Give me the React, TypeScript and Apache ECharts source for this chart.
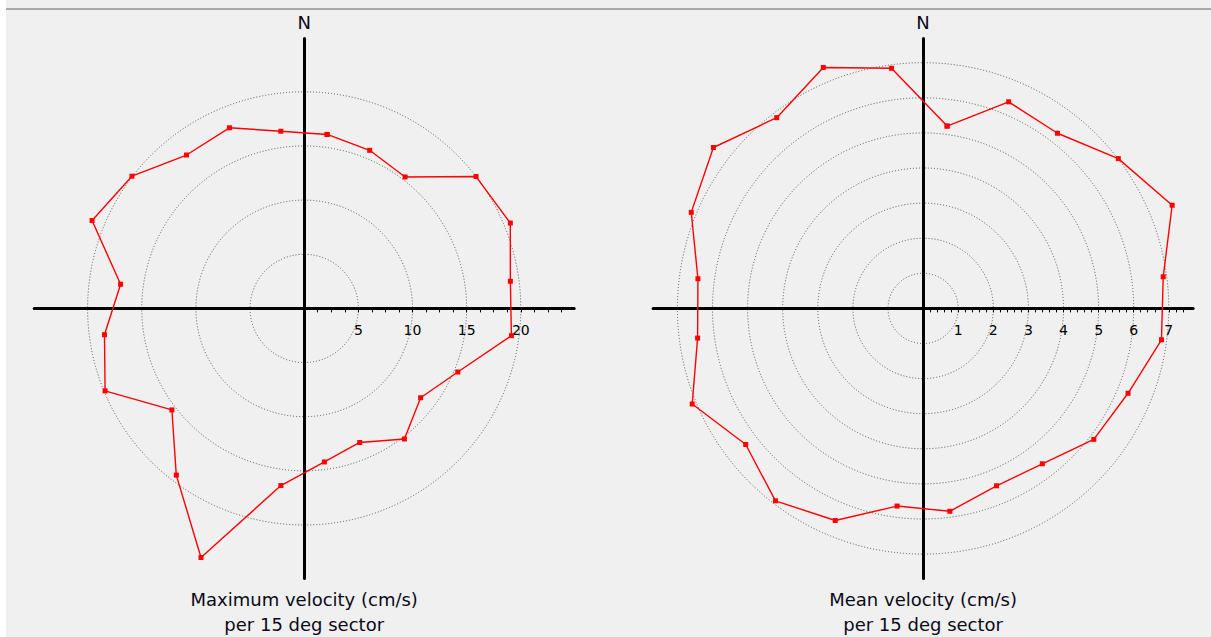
import React, { useEffect, useRef } from "react";
import * as echarts from "echarts";

// Sector centre directions (degrees clockwise from north), 15 deg sectors
const sectorAngles = [7.5, 22.5, 37.5, 52.5, 67.5, 82.5, 97.5, 112.5, 127.5, 142.5, 157.5, 172.5, 187.5, 202.5, 217.5, 232.5, 247.5, 262.5, 277.5, 292.5, 307.5, 322.5, 337.5, 352.5];

// Maximum velocity (cm/s) per sector
const maxVelocity = [16.2, 15.8, 15.3, 20.0, 20.6, 19.2, 19.3, 15.35, 13.55, 15.2, 13.4, 14.3, 16.5, 24.9, 19.4, 15.4, 19.9, 18.6, 17.1, 21.2, 20.05, 17.85, 18.05, 16.5];

// Mean velocity (cm/s) per sector
const meanVelocity = [5.24, 6.37, 6.29, 7.01, 7.68, 6.9, 6.85, 6.32, 6.13, 5.58, 5.47, 5.83, 5.68, 6.54, 6.91, 6.37, 7.12, 6.48, 6.47, 7.15, 7.53, 6.85, 7.43, 6.9];

const maxTickLabels = [5, 10, 15, 20];
const meanTickLabels = [1, 2, 3, 4, 5, 6, 7];

const maxTitle = ["Maximum velocity (cm/s)", "per 15 deg sector"];
const meanTitle = ["Mean velocity (cm/s)", "per 15 deg sector"];
const northLabel = "N";

const FONT = '"DejaVu Sans", "Liberation Sans", sans-serif';

function closedPolar(values: number[]) {
  const pts = sectorAngles.map((a, i) => [values[i], a]);
  pts.push([values[0], sectorAngles[0]]);
  return pts;
}

function labelFormatter(labels: number[]) {
  return (v: number) => {
    const r = Math.round(v);
    return Math.abs(v - r) < 1e-6 && labels.indexOf(r) >= 0 ? String(r) : "";
  };
}

export default function App() {
  const ref = useRef<HTMLDivElement>(null);

  useEffect(() => {
    if (!ref.current) return;
    const chart = echarts.init(ref.current, undefined, { renderer: "svg" });

    const L = { cx: 304.2, cy: 308.4, unit: 10.83, ringMax: 20, ringStep: 5, dataMax: 30, half: 270 };
    const R = { cx: 923.1, cy: 308.4, unit: 35.1, ringMax: 7, ringStep: 1, dataMax: 9, half: 270 };

    const ringStyle = { color: "#555555", width: 1, type: [1, 2] as any };
    const axisLineStyle = { color: "#000", width: 3 };

    const bigGrid = (c: any) => ({
      left: c.cx - c.half,
      top: c.cy - c.half,
      width: c.half * 2,
      height: c.half * 2,
    });

    const crossAxis = (gi: number, c: any) => ({
      type: "value",
      gridIndex: gi,
      min: -c.half / c.unit,
      max: c.half / c.unit,
      axisLine: { show: true, onZero: true, lineStyle: axisLineStyle },
      axisTick: { show: false },
      axisLabel: { show: false },
      splitLine: { show: false },
    });

    const tickX = (gi: number, max: number, interval: number, labels: number[]) => ({
      type: "value",
      gridIndex: gi,
      position: "bottom",
      min: 0,
      max,
      interval,
      axisLine: { show: false, onZero: false },
      axisTick: { show: true, length: 4, lineStyle: { color: "#000", width: 1 } },
      axisLabel: {
        show: true,
        formatter: labelFormatter(labels),
        margin: 15,
        fontSize: 14,
        fontFamily: FONT,
        color: "#000",
      },
      splitLine: { show: false },
    });
    const hiddenY = (gi: number) => ({ type: "value", gridIndex: gi, min: 0, max: 1, show: false });

    const hiddenAngle = (pi: number) => ({
      polarIndex: pi, type: "value", min: 0, max: 360, startAngle: 90, clockwise: true, show: false,
    });
    const ringRadius = (pi: number, c: any) => ({
      polarIndex: pi, type: "value", min: 0, max: c.ringMax, interval: c.ringStep,
      axisLine: { show: false }, axisTick: { show: false }, axisLabel: { show: false },
      splitLine: { show: true, lineStyle: ringStyle },
    });
    const dataRadius = (pi: number, c: any) => ({
      polarIndex: pi, type: "value", min: 0, max: c.dataMax, show: false,
    });

    const seriesStyle = {
      type: "line",
      coordinateSystem: "polar",
      clip: false,
      symbol: "rect",
      symbolSize: 5,
      lineStyle: { color: "#ff0000", width: 1.4 },
      itemStyle: { color: "#ff0000" },
      z: 5,
    };

    const textEl = (x: number, y: number, text: string, size: number) => ({
      type: "text",
      x,
      y,
      z: 10,
      style: {
        text,
        font: `${size}px ${FONT}`,
        fill: "#0a0a18",
        textAlign: "center",
        textVerticalAlign: "middle",
        align: "center",
        verticalAlign: "middle",
      },
    });

    chart.setOption({
      animation: false,
      backgroundColor: "#f0f0f0",
      grid: [
        bigGrid(L),
        { left: L.cx, top: L.cy - 18, width: 23.75 * L.unit, height: 18 },
        bigGrid(R),
        { left: R.cx, top: R.cy - 18, width: 7.4 * R.unit, height: 18 },
      ],
      xAxis: [
        crossAxis(0, L),
        tickX(1, 23.75, 1.25, maxTickLabels),
        crossAxis(2, R),
        tickX(3, 7.4, 0.2, meanTickLabels),
      ],
      yAxis: [crossAxis(0, L), hiddenY(1), crossAxis(2, R), hiddenY(3)],
      polar: [
        { center: [L.cx, L.cy], radius: L.ringMax * L.unit },
        { center: [L.cx, L.cy], radius: L.dataMax * L.unit },
        { center: [R.cx, R.cy], radius: R.ringMax * R.unit },
        { center: [R.cx, R.cy], radius: R.dataMax * R.unit },
      ],
      angleAxis: [hiddenAngle(0), hiddenAngle(1), hiddenAngle(2), hiddenAngle(3)],
      radiusAxis: [ringRadius(0, L), dataRadius(1, L), ringRadius(2, R), dataRadius(3, R)],
      series: [
        { ...seriesStyle, name: "Maximum velocity", polarIndex: 1, data: closedPolar(maxVelocity) },
        { ...seriesStyle, name: "Mean velocity", polarIndex: 3, data: closedPolar(meanVelocity) },
      ],
      graphic: [
        { type: "rect", shape: { x: 0, y: 0, width: 6, height: 637 }, style: { fill: "#ffffff" }, z: 0 },
        { type: "rect", shape: { x: 6, y: 8, width: 1205, height: 2 }, style: { fill: "#a9a9a9" }, z: 0 },
        textEl(L.cx, 22.5, northLabel, 18),
        textEl(R.cx, 22.5, northLabel, 18),
        textEl(L.cx, 599.5, maxTitle[0], 18),
        textEl(L.cx, 624.5, maxTitle[1], 18),
        textEl(R.cx, 599.5, meanTitle[0], 18),
        textEl(R.cx, 624.5, meanTitle[1], 18),
      ],
    });

    return () => chart.dispose();
  }, []);

  return (
    <div
      ref={ref}
      style={{ position: "absolute", left: 0, top: 0, width: 1211, height: 637 }}
    />
  );
}
